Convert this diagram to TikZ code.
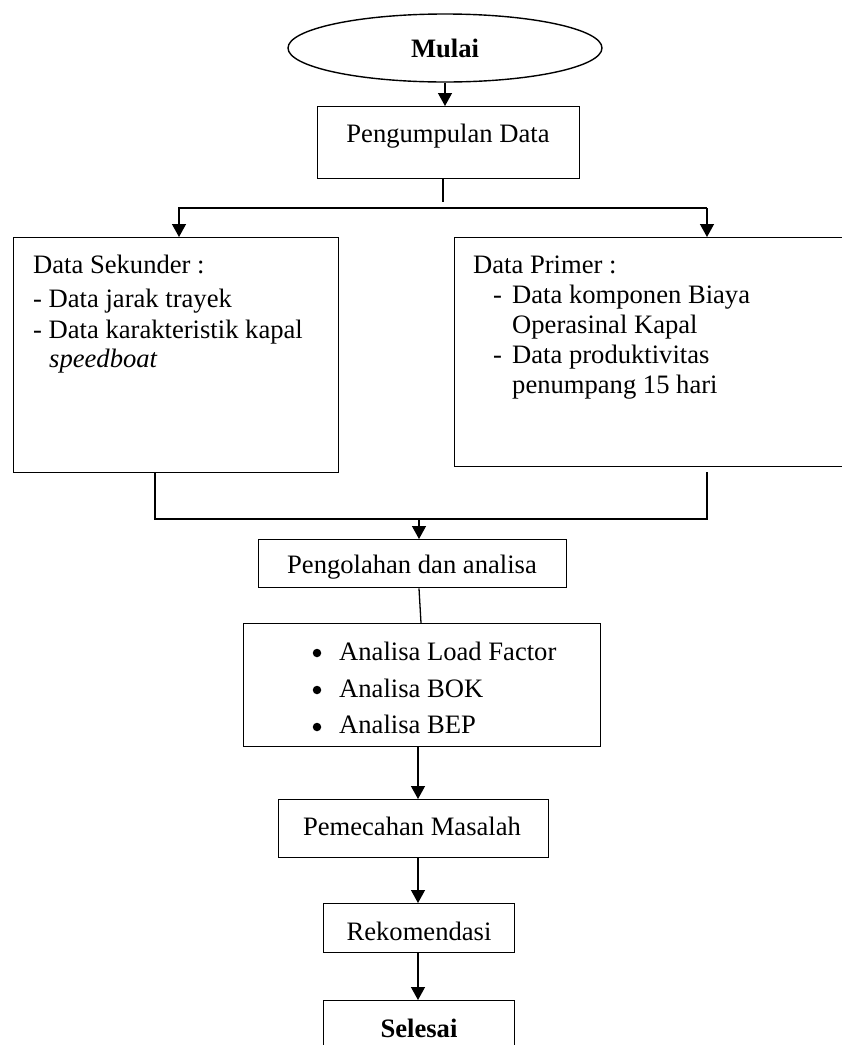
\documentclass[tikz,border=0pt]{standalone}
\usepackage{fontspec}
\setmainfont{Liberation Serif}
\usetikzlibrary{arrows.meta,shapes.geometric}
\begin{document}
\begin{tikzpicture}[x=1pt,y=-1pt,
  box/.style={draw, line width=1.4pt, rectangle, anchor=north west, inner sep=0pt},
  txt/.style={inner sep=0pt, font=\fontsize{26.6}{31}\selectfont},
  dot/.style={circle, fill, inner sep=0pt, minimum size=8.5pt},
  conn/.style={line width=1.3pt},
  arr/.style={line width=1.3pt, -{Triangle[width=14pt,length=13pt]}}]
\useasboundingbox (0,0) rectangle (842,1045);
% shapes
\node[draw, line width=1.4pt, ellipse, minimum width=314pt, minimum height=68pt, inner sep=0pt,
      font=\fontsize{26.6}{31}\selectfont\bfseries] (mulai) at (445,48) {Mulai};
\node[box, minimum width=262pt, minimum height=72pt] (pd) at (317,106) {};
\node[box, minimum width=325pt, minimum height=235pt] (sek) at (13,237) {};
\node[box, minimum width=420pt, minimum height=229pt] (pri) at (454,237) {};
\node[box, minimum width=308pt, minimum height=48pt] (olah) at (258,539) {};
\node[box, minimum width=357pt, minimum height=123pt] (ana) at (243,623) {};
\node[box, minimum width=270pt, minimum height=58pt] (pem) at (278,799) {};
\node[box, minimum width=191pt, minimum height=49pt] (rek) at (323,903) {};
\node[box, minimum width=191pt, minimum height=70pt] (sel) at (323,1000) {};
% texts
\node[txt, anchor=base] (tpd) at (448,142) {Pengumpulan Data};
\node[txt, anchor=base west] (ts1) at (33,273) {Data Sekunder :};
\node[txt, anchor=base west] (ts2) at (33,307) {- Data jarak trayek};
\node[txt, anchor=base west] (ts3) at (33,338) {- Data karakteristik kapal};
\node[txt, anchor=base west] (ts4) at (49,367) {\itshape speedboat};
\node[txt, anchor=base west] (tp1) at (473,273) {Data Primer :};
\node[txt, anchor=base west] (tp2d) at (493,303) {-};
\node[txt, anchor=base west] (tp2) at (512,303) {Data komponen Biaya};
\node[txt, anchor=base west] (tp3) at (512,333) {Operasinal Kapal};
\node[txt, anchor=base west] (tp4d) at (493,363) {-};
\node[txt, anchor=base west] (tp4) at (512,363) {Data produktivitas};
\node[txt, anchor=base west] (tp5) at (512,393) {penumpang 15 hari};
\node[txt, anchor=base] (tol) at (412,573) {Pengolahan dan analisa};
\node[dot] (b1) at (317,653) {};
\node[dot] (b2) at (317,690) {};
\node[dot] (b3) at (317,727) {};
\node[txt, anchor=base west] (ta1) at (339,660) {Analisa Load Factor};
\node[txt, anchor=base west] (ta2) at (339,697) {Analisa BOK};
\node[txt, anchor=base west] (ta3) at (339,733) {Analisa BEP};
\node[txt, anchor=base] (tpm) at (412,835) {Pemecahan Masalah};
\node[txt, anchor=base] (trk) at (419,940) {Rekomendasi};
\node[txt, anchor=base, font=\fontsize{26.6}{31}\selectfont\bfseries] (tsl) at (419,1037) {Selesai};
% connector coordinates
\coordinate (forkA) at (443,202);
\coordinate (forkL) at (179,208);
\coordinate (forkR) at (707,208);
\coordinate (mL) at (155,519);
\coordinate (mR) at (707,519);
\coordinate (mRtop) at (707,472);
\coordinate (mC) at (419,519);
\coordinate (c1) at (419,0);
\coordinate (c2) at (421,0);
\coordinate (c3) at (418,0);
% connectors
\draw[arr] (mulai.south) -- (mulai.south |- pd.north);
\draw[conn] (forkA |- pd.south) -- (forkA);
\draw[arr] (forkR) -- (forkL) -- (forkL |- sek.north);
\draw[arr] (forkR) -- (forkR |- pri.north);
\draw[conn] (mL |- sek.south) -- (mL) -- (mR) -- (mRtop);
\draw[arr] (mC) -- (mC |- olah.north);
\draw[conn] (c1 |- olah.south) -- (c2 |- ana.north);
\draw[arr] (c3 |- ana.south) -- (c3 |- pem.north);
\draw[arr] (c3 |- pem.south) -- (c3 |- rek.north);
\draw[arr] (c3 |- rek.south) -- (c3 |- sel.north);
\end{tikzpicture}
\end{document}
